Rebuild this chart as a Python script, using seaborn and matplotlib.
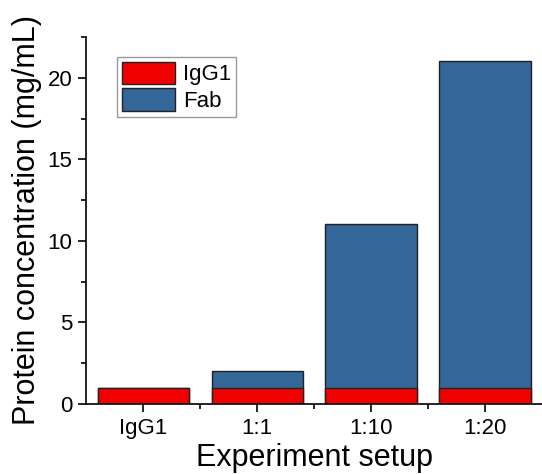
import matplotlib
matplotlib.use("Agg")
import matplotlib.pyplot as plt
from matplotlib.patches import Patch
from matplotlib.ticker import MultipleLocator
import pandas as pd
import seaborn as sns

# Data
setups = ["IgG1", "1:1", "1:10", "1:20"]
igg1_conc = [1, 1, 1, 1]
fab_conc = [0, 1, 10, 20]

red = "#F00000"
blue = "#336699"

df = pd.DataFrame({"setup": setups, "IgG1": igg1_conc, "Fab": fab_conc})
df["total"] = df["IgG1"] + df["Fab"]

sns.set_theme(style="ticks")
plt.rcParams["font.family"] = ["Liberation Sans", "DejaVu Sans"]
plt.rcParams["text.color"] = "black"
plt.rcParams["axes.labelcolor"] = "black"

fig = plt.figure(figsize=(5.42, 4.74), dpi=100)
ax = fig.add_axes([0.159, 0.148, 0.841, 0.774])

# stacked bars: full height in blue, IgG1 part in red on top of it
sns.barplot(data=df, x="setup", y="total", color=blue, saturation=1, width=0.8,
            edgecolor="#222222", linewidth=1, ax=ax)
sns.barplot(data=df, x="setup", y="IgG1", color=red, saturation=1, width=0.8,
            edgecolor="#222222", linewidth=1, ax=ax)

ax.set_xlim(-0.5, 3.5)
ax.set_ylim(0, 22.5)
ax.yaxis.set_major_locator(MultipleLocator(5))
ax.yaxis.set_minor_locator(MultipleLocator(2.5))
ax.set_xticks([0.5, 1.5, 2.5], minor=True)

for side in ["top", "right"]:
    ax.spines[side].set_visible(False)
for side in ["left", "bottom"]:
    ax.spines[side].set_linewidth(1.2)
    ax.spines[side].set_color("black")

ax.tick_params(axis="both", which="major", direction="out", length=6, width=1.2,
               labelsize=16, colors="black", pad=4)
ax.tick_params(axis="both", which="minor", direction="out", length=3.5, width=1.2,
               colors="black")

ax.set_xlabel("Experiment setup", fontsize=22, labelpad=3)
ax.set_ylabel("Protein concentration (mg/mL)", fontsize=22, labelpad=4)

handles = [Patch(facecolor=red, edgecolor="#222222", label="IgG1"),
           Patch(facecolor=blue, edgecolor="#222222", label="Fab")]
leg = ax.legend(handles=handles, loc="upper left", bbox_to_anchor=(0.068, 0.945),
                fontsize=16, handlelength=2.4, handleheight=1.17,
                handletextpad=0.36, labelspacing=0.14, borderpad=0.2,
                borderaxespad=0, fancybox=False, framealpha=1)
leg.get_frame().set_edgecolor("#999999")
leg.get_frame().set_linewidth(1)

fig.savefig("out.png", dpi=100)
